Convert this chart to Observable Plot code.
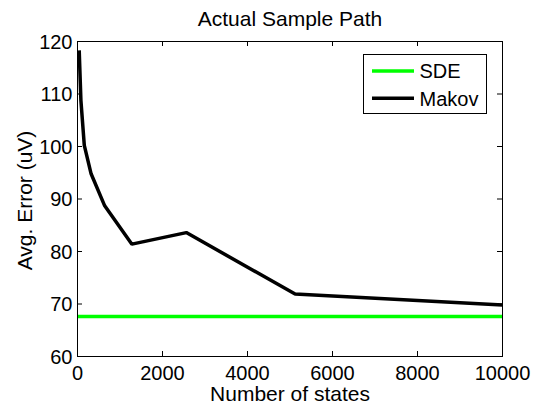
<!DOCTYPE html>
<html>
<head>
<meta charset="utf-8">
<script src="https://cdn.jsdelivr.net/npm/d3@7"></script>
<script src="https://cdn.jsdelivr.net/npm/@observablehq/plot@0.6"></script>
<style>
  body { margin: 0; background: #fff; font-family: "Liberation Sans", Arial, sans-serif; }
  #wrap { position: relative; width: 533px; height: 404px; }
  #legend { position: absolute; left: 363px; top: 54px; }
</style>
</head>
<body>
<div id="wrap"></div>
<script>
// ---- data ----
const title = "Actual Sample Path";
const xLabel = "Number of states";
const yLabel = "Avg. Error (uV)";
const states = [40, 80, 160, 320, 640, 1280, 2560, 5120, 10000];
const markovError = [118.3, 108.8, 100.2, 94.8, 88.7, 81.4, 83.6, 71.9, 69.8];
const sdeError = 67.6;
const xTicks = [0, 2000, 4000, 6000, 8000, 10000];
const yTicks = [60, 70, 80, 90, 100, 110, 120];
const seriesNames = ["SDE", "Makov"];
const seriesColors = ["#00ff00", "#000000"];

const markov = states.map((s, i) => ({ states: s, error: markovError[i] }));
const font = "Liberation Sans, Arial, Helvetica, sans-serif";

const chart = Plot.plot({
  width: 533,
  height: 404,
  marginLeft: 77,
  marginRight: 31,
  marginTop: 41,
  marginBottom: 48,
  style: { fontFamily: font, background: "white", color: "black", overflow: "visible" },
  x: { domain: [0, 10000] },
  y: { domain: [60, 120] },
  marks: [
    Plot.ruleY([sdeError], { stroke: seriesColors[0], strokeWidth: 3.5 }),
    Plot.line(markov, { x: "states", y: "error", stroke: seriesColors[1], strokeWidth: 3.5, strokeLinejoin: "miter", strokeLinecap: "butt" }),
    Plot.frame({ stroke: "black", strokeWidth: 1 }),
    Plot.ruleX(xTicks, { x: d => d, y1: 60, y2: 60, insetTop: -5, stroke: "black" }),
    Plot.ruleX(xTicks, { x: d => d, y1: 120, y2: 120, insetBottom: -5, stroke: "black" }),
    Plot.ruleY(yTicks, { y: d => d, x1: 0, x2: 0, insetRight: -5, stroke: "black" }),
    Plot.ruleY(yTicks, { y: d => d, x1: 10000, x2: 10000, insetLeft: -5, stroke: "black" }),
    Plot.axisX(xTicks, { tickSize: 0, tickPadding: 9, fontSize: 20, label: null, tickFormat: d => String(d) }),
    Plot.axisY(yTicks, { tickSize: 0, tickPadding: 5, fontSize: 20, label: null, tickFormat: d => String(d), dy: 1 }),
    Plot.text([title], { text: d => d, frameAnchor: "top", lineAnchor: "middle", textAnchor: "middle", dy: -22.7, fontSize: 21 }),
    Plot.text([xLabel], { text: d => d, frameAnchor: "bottom", lineAnchor: "middle", textAnchor: "middle", dy: 38, fontSize: 21 }),
    Plot.text([yLabel], { text: d => d, frameAnchor: "left", lineAnchor: "middle", textAnchor: "middle", rotate: -90, dx: -52, dy: 1.5, fontSize: 21 })
  ]
});
const wrap = document.getElementById("wrap");
wrap.appendChild(chart);

// legend overlay
const ns = "http://www.w3.org/2000/svg";
const lg = document.createElementNS(ns, "svg");
lg.setAttribute("id", "legend");
lg.setAttribute("width", 124);
lg.setAttribute("height", 60);
const rect = document.createElementNS(ns, "rect");
rect.setAttribute("x", 0.5); rect.setAttribute("y", 0.5);
rect.setAttribute("width", 123); rect.setAttribute("height", 59);
rect.setAttribute("fill", "white"); rect.setAttribute("stroke", "black");
lg.appendChild(rect);
const rowY = [17, 44.3];
const baseY = [23.7, 52];
seriesNames.forEach((name, i) => {
  const l = document.createElementNS(ns, "line");
  l.setAttribute("x1", 9); l.setAttribute("x2", 51);
  l.setAttribute("y1", rowY[i]); l.setAttribute("y2", rowY[i]);
  l.setAttribute("stroke", seriesColors[i]); l.setAttribute("stroke-width", 3.5);
  lg.appendChild(l);
  const t = document.createElementNS(ns, "text");
  t.setAttribute("x", 56.5); t.setAttribute("y", baseY[i]);
  t.setAttribute("font-family", font); t.setAttribute("font-size", 20);
  t.textContent = name;
  lg.appendChild(t);
});
wrap.appendChild(lg);
</script>
</body>
</html>
